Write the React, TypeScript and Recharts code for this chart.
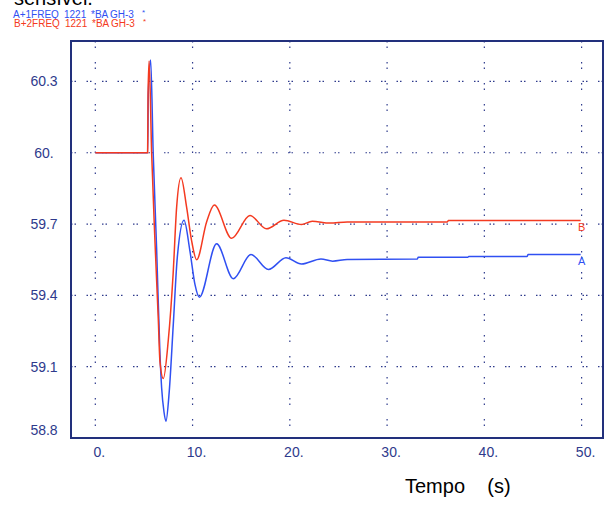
import React from 'react';
import { LineChart, Line, XAxis, YAxis, CartesianGrid, ReferenceArea, LabelList } from 'recharts';

// Curve A (blue) - time (s) and frequency (Hz)
const timeA = [0, 5.38, 5.45, 5.69, 5.95, 6.3, 6.65, 6.82, 7.06, 7.26, 7.6, 8.02, 8.43, 9.12, 9.73, 10.25, 10.7, 12.47, 14.19, 16.0, 17.8, 19.6, 21.2, 23.2, 24.4, 25.9, 33.1, 33.2, 38.3, 38.4, 44.4, 44.5, 49.9];
const freqA = [60.0, 60.0, 60.25, 60.39, 60.0, 59.6, 59.15, 59.01, 58.91, 58.87, 58.995, 59.28, 59.56, 59.716, 59.586, 59.445, 59.392, 59.617, 59.47, 59.572, 59.509, 59.558, 59.532, 59.553, 59.544, 59.551, 59.553, 59.56, 59.56, 59.564, 59.564, 59.572, 59.572];

// Curve B (red)
const timeB = [0, 5.38, 5.42, 5.53, 5.79, 6.13, 6.47, 6.65, 6.99, 7.5, 8.0, 8.36, 8.81, 9.39, 9.9, 10.42, 11.45, 12.24, 14.02, 15.9, 17.6, 19.4, 21.2, 22.3, 24.1, 25.9, 36.2, 36.3, 49.9];
const freqB = [60.0, 60.0, 60.24, 60.386, 60.0, 59.63, 59.305, 59.12, 59.05, 59.21, 59.49, 59.77, 59.895, 59.77, 59.63, 59.55, 59.71, 59.78, 59.64, 59.736, 59.68, 59.716, 59.698, 59.712, 59.704, 59.709, 59.709, 59.715, 59.715];

const xTicks = [0, 10, 20, 30, 40, 50];
const yTicks = [58.8, 59.1, 59.4, 59.7, 60.0, 60.3];

// header words of the two traces, with their left positions
const legendWords = ['FREQ', '1221', '*BA', 'GH-3', '*'];
const legendLeft = [13, 64, 91, 110, 142];

const xDomain = [-2.5, 52.2];
const yDomain = [58.8, 60.47];

const BLUE = '#3050f2';
const RED = '#f43a20';
const NAVY = '#2e3a8c';
const FRAME = '#22307c';
const FONT = 'Liberation Sans, Arial, sans-serif';

const dataA = timeA.map((t, i) => ({ t, v: freqA[i] }));
const dataB = timeB.map((t, i) => ({ t, v: freqB[i] }));

const fmt = (v: number) => (Number.isInteger(v) ? `${v}.` : v.toFixed(1));

const YTick = (props: any) => {
  const { y, payload } = props;
  const shift = payload.value === 58.8 ? -8 : 0;
  return (
    <text x={44} y={y + shift} dy="0.35em" textAnchor="middle" fill={NAVY} fontSize={14} fontFamily={FONT}>
      {fmt(payload.value)}
    </text>
  );
};

const XTick = (props: any) => {
  const { x, payload } = props;
  return (
    <text x={x + 4} y={452} dy="0.35em" textAnchor="middle" fill={NAVY} fontSize={14} fontFamily={FONT}>
      {fmt(payload.value)}
    </text>
  );
};

const endLabel = (letter: string, color: string, last: number) => (props: any) => {
  const { x, y, index } = props;
  if (index !== last) return null;
  return (
    <text x={x + 1} y={y + 7} dy="0.35em" textAnchor="middle" fill={color} fontSize={11} fontFamily={FONT}>
      {letter}
    </text>
  );
};

function TraceHeader({ prefix, color, top, shift }: { prefix: string; color: string; top: number; shift: number }) {
  return (
    <>
      {legendWords.map((w, i) => (
        <span
          key={i}
          style={{ position: 'absolute', left: legendLeft[i] + shift, top: i === 4 ? top - 2 : top, fontSize: i === 4 ? 8 : 10, lineHeight: '10px', color, whiteSpace: 'pre' }}
        >
          {i === 0 ? prefix + w : w}
        </span>
      ))}
    </>
  );
}

export default function App() {
  return (
    <div style={{ position: 'absolute', left: 0, top: 0, width: 605, height: 518, background: '#fff', overflow: 'hidden', fontFamily: FONT }}>
      <div style={{ position: 'absolute', left: 14, top: -12, fontSize: 20, lineHeight: '20px', color: '#000' }}>sensível.</div>
      <TraceHeader prefix="A+1" color={BLUE} top={9.5} shift={0} />
      <TraceHeader prefix="B+2" color={RED} top={19} shift={1} />

      <div style={{ position: 'absolute', left: 0, top: 0 }}>
        <LineChart width={605} height={518} margin={{ top: 41, right: 2, left: 0, bottom: 0 }}>
          <CartesianGrid vertical={false} stroke={NAVY} strokeWidth={1.2} strokeDasharray="1.5 2 1.5 10.5" />
          <CartesianGrid horizontal={false} stroke={NAVY} strokeWidth={1.2} strokeDasharray="1.5 4 1.5 14" />
          <XAxis
            type="number"
            dataKey="t"
            domain={xDomain}
            ticks={xTicks}
            allowDataOverflow
            height={80}
            axisLine={false}
            tickLine={false}
            tick={<XTick />}
          />
          <YAxis
            type="number"
            domain={yDomain}
            ticks={yTicks}
            allowDataOverflow
            width={71}
            axisLine={false}
            tickLine={false}
            tick={<YTick />}
          />
          <ReferenceArea x1={xDomain[0]} x2={xDomain[1]} y1={yDomain[0]} y2={yDomain[1]} fill="none" fillOpacity={0} stroke={FRAME} strokeWidth={2} ifOverflow="visible" />
          <Line data={dataA} dataKey="v" type="monotone" stroke={BLUE} strokeWidth={1.5} dot={false} isAnimationActive={false}>
            <LabelList dataKey="v" content={endLabel('A', BLUE, dataA.length - 1)} />
          </Line>
          <Line data={dataB} dataKey="v" type="monotone" stroke={RED} strokeWidth={1.5} dot={false} isAnimationActive={false}>
            <LabelList dataKey="v" content={endLabel('B', RED, dataB.length - 1)} />
          </Line>
        </LineChart>
      </div>

      <div style={{ position: 'absolute', left: 405, top: 476, fontSize: 20, lineHeight: '20px', color: '#000', whiteSpace: 'pre' }}>
        {'Tempo    (s)'}
      </div>
    </div>
  );
}
